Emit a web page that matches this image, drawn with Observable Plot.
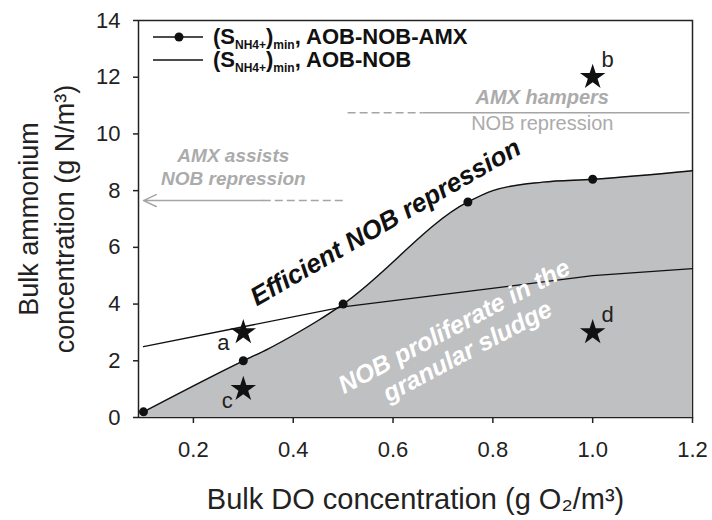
<!DOCTYPE html>
<html>
<head>
<meta charset="utf-8">
<script src="https://cdn.jsdelivr.net/npm/d3@7"></script>
<script src="https://cdn.jsdelivr.net/npm/@observablehq/plot@0.6"></script>
<style>
  html, body { margin: 0; padding: 0; background: #fff; }
</style>
</head>
<body>
<div id="chart"></div>
<script>
// ---- data ----
// (S_NH4+)min, AOB-NOB-AMX curve (dots at model points)
const doAMX     = [0.1, 0.3, 0.35, 0.4, 0.45, 0.5, 0.75, 0.8, 0.9, 1.0, 1.2];
const nh4AMX    = [0.2, 2.0, 2.42, 2.9, 3.42, 4.0, 7.6, 8.0, 8.3, 8.4, 8.7];
const markerAMX = [true, true, false, false, false, true, true, false, false, true, false];
// (S_NH4+)min, AOB-NOB curve
const doNOB  = [0.1, 0.3, 0.5, 0.75, 1.0, 1.2];
const nh4NOB = [2.5, 3.2, 3.9, 4.45, 5.0, 5.25];
// experimental conditions (stars)
const starLabels = ["a", "b", "c", "d"];
const starDO     = [0.3, 1.0, 0.3, 1.0];
const starNH4    = [3.0, 12.0, 1.0, 3.0];
// guide lines
const assistLevel  = 7.65;           // "AMX assists" arrow level
const assistSolid  = [0.1, 0.34];
const assistDashed = [0.34, 0.505];
const hamperLevel  = 10.75;          // "AMX hampers" line level
const hamperDashed = [0.51, 0.66];
const hamperSolid  = [0.66, 1.195];
// annotation texts and their anchors (data units)
const noteText = ["AMX assists\nNOB repression", "AMX hampers", "NOB repression",
                  "Efficient NOB repression", "NOB proliferate in the\ngranular sludge"];
const noteDO   = [0.28, 0.899, 0.899, 0.585, 0.735];
const noteNH4  = [8.85, 11.28, 10.37, 6.88, 2.8];
// ticks and labels
const xTicks = [0.2, 0.4, 0.6, 0.8, 1.0, 1.2];
const yTicks = [0, 2, 4, 6, 8, 10, 12, 14];
const xLabel = "Bulk DO concentration (g O\u2082/m\u00B3)";
const yLabel = "Bulk ammonium\nconcentration (g N/m\u00B3)";
const legendRows = ["AOB-NOB-AMX", "AOB-NOB"];

// ---- tables ----
const amx = doAMX.map((x, i) => ({x, y: nh4AMX[i], marker: markerAMX[i]}));
const nob = doNOB.map((x, i) => ({x, y: nh4NOB[i]}));
const stars = starLabels.map((label, i) => ({label, x: starDO[i], y: starNH4[i]}));
const notes = noteText.map((text, i) => ({text, x: noteDO[i], y: noteNH4[i]}));

// style config
const labelOffset = {a: [-20, 11], b: [15, -17], c: [-16, 12], d: [15, -17]};
const grayText = "#ababab";
const grayLine = "#a5a5a5";

function legendMark(index, scales, values, dimensions) {
  const ml = dimensions.marginLeft, mt = dimensions.marginTop;
  const g = d3.create("svg:g").attr("text-anchor", "start");
  legendRows.forEach((label, i) => {
    const y = mt + 17 + i * 23;
    g.append("line").attr("x1", ml + 15).attr("x2", ml + 65)
      .attr("y1", y).attr("y2", y).attr("stroke", "#111").attr("stroke-width", 1.4);
    if (i === 0) g.append("circle").attr("cx", ml + 41).attr("cy", y).attr("r", 4.5).attr("fill", "#111");
    const t = g.append("text").attr("x", ml + 75).attr("y", y + 7).attr("text-anchor", "start")
      .attr("font-weight", "bold").attr("font-size", 22).attr("fill", "#111");
    t.append("tspan").text("(S");
    t.append("tspan").attr("font-size", 12).attr("dy", 5).text("NH4+");
    t.append("tspan").attr("dy", -5).text(")");
    t.append("tspan").attr("font-size", 12).attr("dy", 5).text("min");
    t.append("tspan").attr("dy", -5).text(", " + label);
  });
  return g.node();
}

const starLabelMarks = stars.map(s =>
  Plot.text([s], {x: "x", y: "y", text: "label", dx: labelOffset[s.label][0], dy: labelOffset[s.label][1],
    fontSize: 22, fill: "#222", textAnchor: "middle"})
);

const chart = Plot.plot({
  width: 712,
  height: 520,
  marginLeft: 138,
  marginRight: 20,
  marginTop: 20,
  marginBottom: 103,
  x: {domain: [0.09, 1.2], label: null},
  y: {domain: [0, 14], label: null},
  style: {fontFamily: "'Liberation Sans', Arial, Helvetica, sans-serif", background: "white", color: "#111"},
  marks: [
    Plot.frame({stroke: "#222", strokeWidth: 1.5}),
    Plot.areaY(amx, {x: "x", y: "y", curve: "monotone-x", fill: "#bfc0c2"}),
    Plot.line(nob, {x: "x", y: "y", stroke: "#111", strokeWidth: 1.3}),
    Plot.line(amx, {x: "x", y: "y", curve: "monotone-x", stroke: "#111", strokeWidth: 1.4}),
    Plot.dot(amx.filter(d => d.marker), {x: "x", y: "y", r: 4.5, fill: "#111", stroke: "none"}),
    Plot.dot(stars, {x: "x", y: "y", symbol: "star", r: 8, fill: "#111", stroke: "none"}),
    ...starLabelMarks,
    // AMX assists arrow (solid with head, then dashed)
    Plot.arrow([{x1: assistSolid[1], x2: assistSolid[0], y: assistLevel}],
      {x1: "x1", x2: "x2", y1: "y", y2: "y", stroke: grayLine, strokeWidth: 1.5, headLength: 14, headAngle: 50}),
    Plot.ruleY([{y: assistLevel, x1: assistDashed[0], x2: assistDashed[1]}],
      {y: "y", x1: "x1", x2: "x2", stroke: grayLine, strokeWidth: 1.5, strokeDasharray: "8,4"}),
    // AMX hampers line
    Plot.ruleY([{y: hamperLevel, x1: hamperDashed[0], x2: hamperDashed[1]}],
      {y: "y", x1: "x1", x2: "x2", stroke: grayLine, strokeWidth: 1.5, strokeDasharray: "8,4"}),
    Plot.ruleY([{y: hamperLevel, x1: hamperSolid[0], x2: hamperSolid[1]}],
      {y: "y", x1: "x1", x2: "x2", stroke: grayLine, strokeWidth: 1.5}),
    // annotations
    Plot.text([notes[0]], {x: "x", y: "y", text: "text", fontSize: 19, fontWeight: "bold", fontStyle: "italic",
      fill: grayText, lineHeight: 1.2, textAnchor: "middle"}),
    Plot.text([notes[1]], {x: "x", y: "y", text: "text", fontSize: 20, fontWeight: "bold", fontStyle: "italic",
      fill: grayText, textAnchor: "middle"}),
    Plot.text([notes[2]], {x: "x", y: "y", text: "text", fontSize: 20, fill: grayText, textAnchor: "middle"}),
    Plot.text([notes[3]], {x: "x", y: "y", text: "text", fontSize: 26, fontWeight: "bold", fontStyle: "italic",
      fill: "#111", rotate: -30, textAnchor: "middle"}),
    Plot.text([notes[4]], {x: "x", y: "y", text: "text", fontSize: 25, fontWeight: "bold", fontStyle: "italic",
      fill: "white", rotate: -28, lineHeight: 1.12, textAnchor: "middle"}),
    // legend
    legendMark,
    // axes
    Plot.axisX({ticks: xTicks, tickFormat: d => d.toFixed(1), tickSize: 6, tickPadding: 18,
      fontSize: 22, label: null, stroke: "#222", strokeWidth: 1.5, fill: "#222"}),
    Plot.axisY({ticks: yTicks, tickSize: 5, tickPadding: 13,
      fontSize: 22, label: null, stroke: "#222", strokeWidth: 1.5, fill: "#222"}),
    Plot.text([xLabel], {text: d => d, frameAnchor: "bottom", dy: 82, fontSize: 29,
      textAnchor: "middle", lineAnchor: "middle", fill: "#222"}),
    Plot.text([yLabel], {text: d => d, frameAnchor: "left", dx: -94, rotate: -90, fontSize: 27,
      lineHeight: 1.35, textAnchor: "middle", lineAnchor: "middle", fill: "#222"})
  ]
});
document.getElementById("chart").appendChild(chart);
</script>
</body>
</html>
